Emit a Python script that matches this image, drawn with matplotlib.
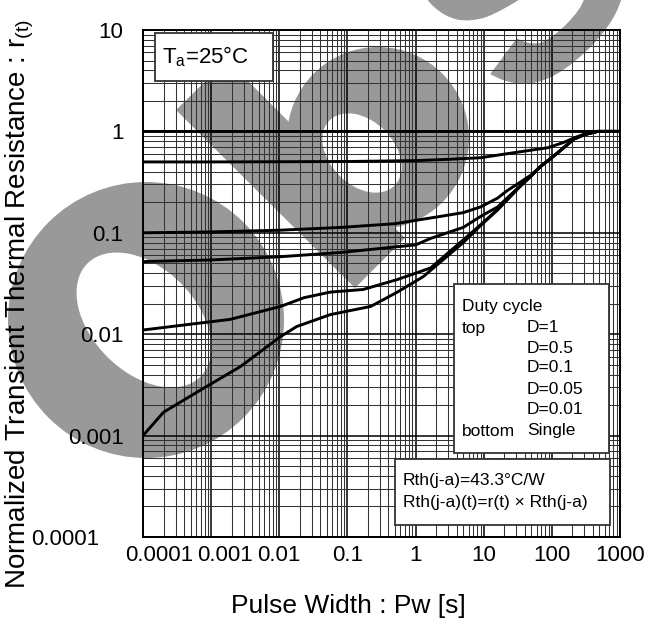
import matplotlib
matplotlib.use("Agg")
import matplotlib.pyplot as plt
from matplotlib.patches import Rectangle, Circle, Ellipse, Polygon, PathPatch
from matplotlib.textpath import TextPath
from matplotlib.font_manager import FontProperties
from matplotlib.transforms import Affine2D, ScaledTranslation
from matplotlib.ticker import LogLocator, FixedLocator, FixedFormatter, NullFormatter

W, H = 646, 631
plt.rcParams['font.family'] = ['Liberation Sans', 'DejaVu Sans']
plt.rcParams['mathtext.fontset'] = 'custom'
plt.rcParams['mathtext.rm'] = 'Liberation Sans'

# courbes (Pw en s, r(t))
pw_d1 = [1e-4, 1000]
r_d1 = [1, 1]

pw_d05 = [1e-4, 1e-3, 0.01, 0.1, 1, 3, 9, 27, 87, 150, 210, 300, 450, 1000]
r_d05 = [0.5, 0.5, 0.502, 0.505, 0.515, 0.53, 0.55, 0.615, 0.69, 0.78, 0.86, 0.94, 1.0, 1.0]

pw_d01 = [1e-4, 1e-3, 0.01, 0.08, 0.5, 1.66, 5, 9, 16, 22, 33, 49, 68, 120, 210, 300, 470, 1000]
r_d01 = [0.1, 0.102, 0.106, 0.113, 0.123, 0.14, 0.158, 0.18, 0.22, 0.26, 0.31, 0.37, 0.45, 0.61, 0.84, 0.93, 1.0, 1.0]

pw_d005 = [1e-4, 1e-3, 0.01, 0.08, 1, 1.66, 5, 9, 16, 27, 40, 68, 120, 210, 300, 470, 1000]
r_d005 = [0.052, 0.054, 0.058, 0.064, 0.076, 0.088, 0.113, 0.145, 0.18, 0.25, 0.32, 0.45, 0.61, 0.84, 0.93, 1.0, 1.0]

pw_d001 = [1e-4, 1.9e-3, 0.0105, 0.023, 0.056, 0.17, 0.54, 1.66, 5, 9, 16, 33, 49, 68, 120, 210, 300, 470, 1000]
r_d001 = [0.011, 0.014, 0.0188, 0.0229, 0.026, 0.0276, 0.0346, 0.045, 0.085, 0.12, 0.17, 0.28, 0.36, 0.45, 0.61, 0.84, 0.93, 1.0, 1.0]

pw_single = [1e-4, 2e-4, 6.3e-4, 2.7e-3, 0.0105, 0.018, 0.056, 0.22, 0.54, 1.3, 5, 9, 16, 33, 49, 68, 120, 210, 300, 470, 1000]
r_single = [0.001, 0.0017, 0.0027, 0.0048, 0.0095, 0.0119, 0.0156, 0.0188, 0.026, 0.037, 0.08, 0.118, 0.168, 0.28, 0.36, 0.45, 0.61, 0.84, 0.93, 1.0, 1.0]

x_ticks = [1e-4, 1e-3, 1e-2, 1e-1, 1, 10, 100, 1000]
x_labels = ['0.0001', '0.001', '0.01', '0.1', '1', '10', '100', '1000']
y_ticks = [1e-4, 1e-3, 1e-2, 1e-1, 1, 10]
y_labels = ['0.0001', '0.001', '0.01', '0.1', '1', '10']

legend_left = ['Duty cycle', 'top', '', '', '', '', 'bottom']
legend_right = ['', 'D=1', 'D=0.5', 'D=0.1', 'D=0.05', 'D=0.01', 'Single']


def px(x, y):
    # pixels (origine en haut a gauche) -> fraction de figure
    return x / W, 1 - y / H


fig = plt.figure(figsize=(W / 100, H / 100), dpi=100)

# filigrane gris "Obs" en arriere plan
bg = fig.add_axes([0, 0, 1, 1], zorder=0)
bg.set_xlim(0, W)
bg.set_ylim(H, 0)
bg.axis('off')
grey = '#999999'
bg.add_patch(Circle((146, 320), 138, color=grey, lw=0))
bg.add_patch(Ellipse((144, 320), 160, 104, angle=45, color='white', lw=0))
bg.add_patch(Polygon([(176, 110), (227, 60), (405, 238), (355, 288)], color=grey, lw=0))
bg.add_patch(Circle((378, 138), 91, color=grey, lw=0))
bg.add_patch(Ellipse((362, 153), 92, 64, angle=45, color='white', lw=0))
tp = TextPath((0, 0), 's', size=100, prop=FontProperties(family='Liberation Sans', weight='bold'))
bb = tp.get_extents()
sc = 200 / bb.height
tr = Affine2D().translate(-(bb.x0 + bb.x1) / 2, -(bb.y0 + bb.y1) / 2).scale(sc, -sc).rotate_deg(-45).translate(518, -22)
bg.add_patch(PathPatch(tr.transform_path(tp), color=grey, lw=0))

# graphique principal
ax = fig.add_axes([143 / W, 1 - 537 / H, 477 / W, 507 / H], zorder=1)
ax.patch.set_alpha(0)
ax.set_xscale('log')
ax.set_yscale('log')
ax.set_xlim(1e-4, 1000)
ax.set_ylim(1e-4, 10)

for xs, ys in [(pw_d1, r_d1), (pw_d05, r_d05), (pw_d01, r_d01),
               (pw_d005, r_d005), (pw_d001, r_d001), (pw_single, r_single)]:
    ax.plot(xs, ys, color='black', lw=2.1, zorder=3, solid_joinstyle='round')

ax.xaxis.set_major_locator(FixedLocator(x_ticks))
ax.xaxis.set_major_formatter(FixedFormatter(x_labels))
ax.yaxis.set_major_locator(FixedLocator(y_ticks))
ax.yaxis.set_major_formatter(FixedFormatter(y_labels))
ax.xaxis.set_minor_locator(LogLocator(base=10, subs=range(2, 10), numticks=30))
ax.yaxis.set_minor_locator(LogLocator(base=10, subs=range(2, 10), numticks=30))
ax.xaxis.set_minor_formatter(NullFormatter())
ax.yaxis.set_minor_formatter(NullFormatter())
ax.set_axisbelow(True)
ax.grid(which='major', color='black', lw=1.1)
ax.grid(which='minor', color='#333333', lw=0.75)
ax.tick_params(which='both', length=0)
ax.tick_params(axis='y', pad=14, labelsize=16)
ax.tick_params(axis='x', pad=6, labelsize=16)
for sp in ax.spines.values():
    sp.set_linewidth(1.4)

# decalage des libelles qui se chevauchent au coin
off = fig.dpi_scale_trans
ax.get_yticklabels()[0].set_transform(ax.get_yticklabels()[0].get_transform() + ScaledTranslation(-0.24, 0, off))
ax.get_xticklabels()[0].set_transform(ax.get_xticklabels()[0].get_transform() + ScaledTranslation(0.16, 0, off))
ax.get_xticklabels()[1].set_transform(ax.get_xticklabels()[1].get_transform() + ScaledTranslation(0.14, 0, off))

ax.set_xlabel('Pulse Width : Pw [s]', fontsize=19)
ax.xaxis.set_label_coords((348 - 143) / 477, (537 - 606) / 507)
ax.xaxis.label.set_va('center')
ax.set_ylabel(r'Normalized Transient Thermal Resistance : r$_{\mathrm{(t)}}$', fontsize=20)
ax.yaxis.set_label_coords((20 - 143) / 477, (537 - 304) / 507)
ax.yaxis.label.set_va('center')

# encadres de texte
def box(x0, y0, x1, y1):
    fig.add_artist(Rectangle(px(x0, y1), (x1 - x0) / W, (y1 - y0) / H, transform=fig.transFigure,
                             facecolor='white', edgecolor='#333333', lw=1.3, zorder=5))

box(155, 33, 273, 81)
fig.text(*px(162, 57), r'T$_{\mathrm{a}}$=25°C', fontsize=16, va='center', zorder=6)

box(454, 284, 609, 453)
row_y = [307, 328, 348.7, 368, 389, 409.5, 431]
for yy, a, b in zip(row_y, legend_left, legend_right):
    fig.text(*px(462, yy), a, fontsize=12.5, va='center', zorder=6)
    fig.text(*px(527, yy), b, fontsize=12.5, va='center', zorder=6)

box(395, 459, 610, 525)
fig.text(*px(403, 481), 'Rth(j-a)=43.3°C/W', fontsize=12.5, va='center', zorder=6)
fig.text(*px(403, 503), 'Rth(j-a)(t)=r(t) × Rth(j-a)', fontsize=12.5, va='center', zorder=6)

fig.savefig('out.png', dpi=100)
